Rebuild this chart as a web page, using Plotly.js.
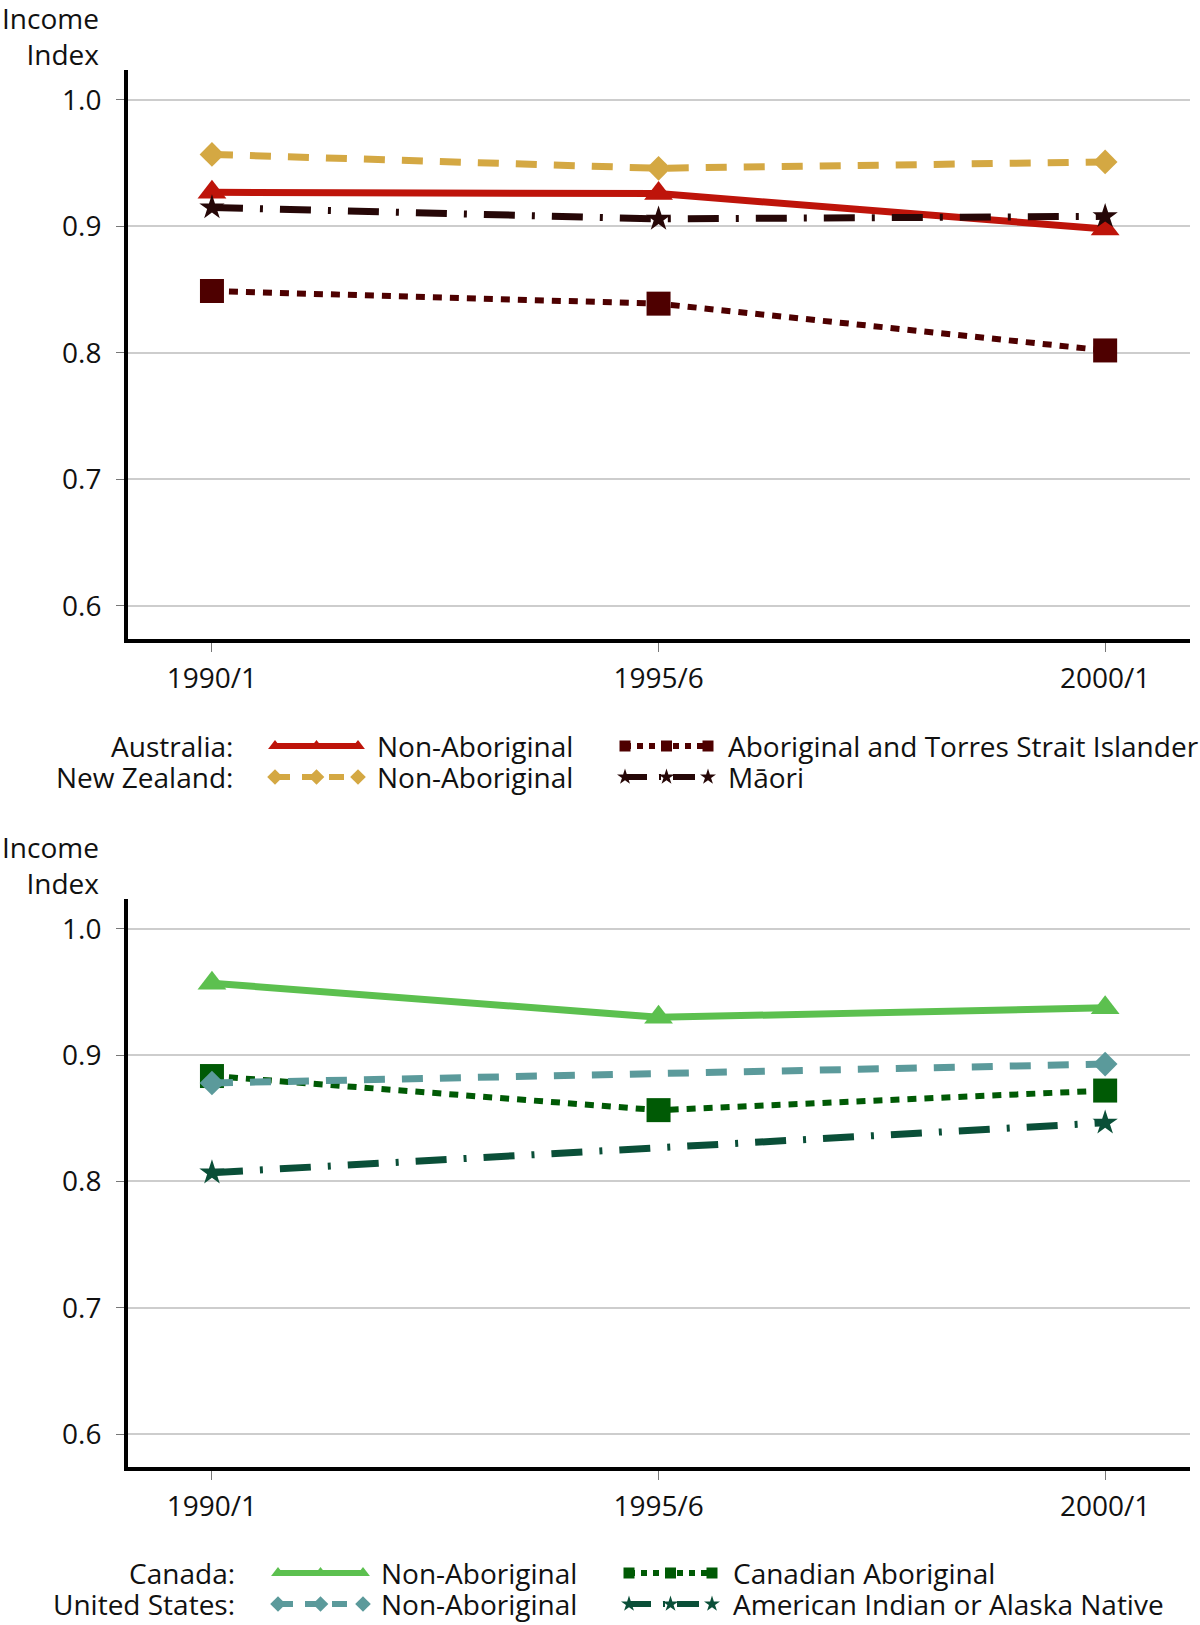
<!DOCTYPE html>
<html>
<head>
<meta charset="utf-8">
<script src="https://cdn.plot.ly/plotly-3.0.1.min.js"></script>
<style>html,body{margin:0;padding:0;background:#fff;}#chart{width:1200px;height:1625px;}</style>
</head>
<body>
<div id="chart"></div>
<script>
// ---- Data ----
const years = ['1990/1', '1995/6', '2000/1'];
const yTickVals = [0.6, 0.7, 0.8, 0.9, 1.0];
const yTickText = ['0.6', '0.7', '0.8', '0.9', '1.0'];

const ausNonAboriginal = [0.927, 0.926, 0.898];
const ausAboriginal = [0.849, 0.839, 0.802];
const nzNonAboriginal = [0.957, 0.946, 0.951];
const nzMaori = [0.915, 0.906, 0.908];

const canNonAboriginal = [0.957, 0.930, 0.9375];
const canAboriginal = [0.8835, 0.8565, 0.872];
const usNonAboriginal = [0.878, null, 0.893];
const usAIAN = [0.807, null, 0.8465];

const topCountries = ['Australia:', 'New Zealand:'];
const bottomCountries = ['Canada:', 'United States:'];
const topLabels = [['Non-Aboriginal', 'Aboriginal and Torres Strait Islander'], ['Non-Aboriginal', 'Māori']];
const bottomLabels = [['Non-Aboriginal', 'Canadian Aboriginal'], ['Non-Aboriginal', 'American Indian or Alaska Native']];
const yTitle = 'Income<br>Index';

// ---- Styles ----
const FONT = '"Open Sans", "Noto Sans", sans-serif';
const W = 1200, H = 1625;
const px = x => x / W;
const py = y => 1 - y / H;

const styles = {
  ausNon: {color: '#BE140A', dash: 'solid', width: 7, symbol: 'triangle-up', size: 25},
  ausAb:  {color: '#4E0000', dash: '9px,8px', width: 6, symbol: 'square', size: 24},
  nzNon:  {color: '#D4A843', dash: '21px,17px', width: 7, symbol: 'diamond', size: 19},
  nzMaori:{color: '#260707', dash: '31px,17px,3px,17px', width: 7, symbol: 'star', size: 19},
  canNon: {color: '#5CC04F', dash: 'solid', width: 7, symbol: 'triangle-up', size: 25},
  canAb:  {color: '#005A05', dash: '9px,8px', width: 6, symbol: 'square', size: 24},
  usNon:  {color: '#5B9A9B', dash: '21px,17px', width: 7, symbol: 'diamond', size: 19},
  usAIAN: {color: '#0A4F38', dash: '31px,17px,3px,17px', width: 7, symbol: 'star', size: 19}
};

function series(y, st, xa, ya) {
  return {
    type: 'scatter', mode: 'lines+markers', x: years, y: y,
    xaxis: xa, yaxis: ya, connectgaps: true, showlegend: false, hoverinfo: 'skip',
    line: {color: st.color, width: st.width, dash: st.dash},
    marker: {color: st.color, symbol: st.symbol, size: st.size, line: {width: 0}}
  };
}

// legend key sample (decorative key, drawn on an overlay axis in page pixels)
function key(st, x0, x1, y) {
  return {
    type: 'scatter', mode: 'lines+markers', x: [x0, (x0 + x1) / 2, x1], y: [y, y, y],
    xaxis: 'x3', yaxis: 'y3', showlegend: false, hoverinfo: 'skip',
    line: {color: st.color, width: 6, dash: st.dash === 'solid' ? 'solid' : st.dash.replace(/(\d+)px/g, (m, n) => Math.round(n * 0.7) + 'px')},
    marker: {color: st.color, symbol: st.symbol, size: st.symbol === 'square' ? 11 : 12, line: {width: 0}}
  };
}

const traces = [
  series(ausAboriginal, styles.ausAb, 'x', 'y'),
  series(ausNonAboriginal, styles.ausNon, 'x', 'y'),
  series(nzMaori, styles.nzMaori, 'x', 'y'),
  series(nzNonAboriginal, styles.nzNon, 'x', 'y'),
  series(canNonAboriginal, styles.canNon, 'x2', 'y2'),
  series(canAboriginal, styles.canAb, 'x2', 'y2'),
  series(usNonAboriginal, styles.usNon, 'x2', 'y2'),
  series(usAIAN, styles.usAIAN, 'x2', 'y2'),
  // legend keys
  key(styles.ausNon, 275, 358, 746),
  key(styles.ausAb, 625, 708, 746),
  key(styles.nzNon, 275, 358, 777),
  key(styles.nzMaori, 625, 708, 777),
  key(styles.canNon, 278, 363, 1573),
  key(styles.canAb, 629, 712, 1573),
  key(styles.usNon, 278, 363, 1604),
  key(styles.usAIAN, 629, 712, 1604)
];

const tickFont = {family: FONT, size: 28, color: '#111'};

function xAxis(anchor) {
  return {
    domain: [px(128), px(1190)], anchor: anchor, type: 'category',
    range: [-0.188, 2.19], showgrid: false, zeroline: false,
    showline: true, linecolor: '#000', linewidth: 4,
    ticks: 'outside', ticklen: 9, tickwidth: 1, tickcolor: '#777',
    ticklabelstandoff: 2, tickfont: tickFont, fixedrange: true
  };
}
function yAxis(anchor, top, bottom) {
  return {
    domain: [py(bottom), py(top)], anchor: anchor,
    range: [0.5739, 1.0237], tickvals: yTickVals, ticktext: yTickText,
    showgrid: true, gridcolor: '#CDCDCD', gridwidth: 2, zeroline: false,
    showline: true, linecolor: '#000', linewidth: 4,
    ticks: 'outside', ticklen: 8, tickwidth: 1, tickcolor: '#777',
    ticklabelstandoff: 9, tickfont: tickFont, fixedrange: true
  };
}

const annotations = [];
// Two-row legend columns: the annotation font sets the 31px row pitch, the span sets the glyph size.
function addColumn(rows, x, yCenter, anchor) {
  const text = rows.map(r => '<span style="font-size:28px">' + r + '</span>').join('<br>');
  annotations.push({text: text, xref: 'paper', yref: 'paper', x: px(x), y: py(yCenter),
    xanchor: anchor, yanchor: 'middle', align: anchor === 'right' ? 'right' : 'left',
    showarrow: false, font: {family: FONT, size: 23.85, color: '#111'}});
}
function addTitle(x, y) {
  annotations.push({text: yTitle, xref: 'paper', yref: 'paper', x: px(x), y: py(y),
    xanchor: 'right', yanchor: 'middle', align: 'right',
    showarrow: false, font: {family: FONT, size: 28, color: '#111'}});
}
addTitle(101, 36);
addTitle(101, 865);
addColumn(topCountries, 235, 761.5, 'right');
addColumn([topLabels[0][0], topLabels[1][0]], 375, 761.5, 'left');
addColumn([topLabels[0][1], topLabels[1][1]], 726, 761.5, 'left');
addColumn(bottomCountries, 237, 1588.5, 'right');
addColumn([bottomLabels[0][0], bottomLabels[1][0]], 379, 1588.5, 'left');
addColumn([bottomLabels[0][1], bottomLabels[1][1]], 731, 1588.5, 'left');

const layout = {
  width: W, height: H, margin: {l: 0, r: 0, t: 0, b: 0},
  paper_bgcolor: '#fff', plot_bgcolor: 'rgba(0,0,0,0)',
  showlegend: false,
  font: {family: FONT, color: '#111'},
  xaxis: xAxis('y'),
  yaxis: yAxis('x', 70, 639),
  xaxis2: xAxis('y2'),
  yaxis2: yAxis('x2', 899, 1467),
  xaxis3: {domain: [0, 1], range: [0, W], visible: false, fixedrange: true, anchor: 'y3'},
  yaxis3: {domain: [0, 1], range: [H, 0], visible: false, fixedrange: true, anchor: 'x3'},
  annotations: annotations
};

Plotly.newPlot('chart', traces, layout, {staticPlot: true, displayModeBar: false});
</script>
</body>
</html>
